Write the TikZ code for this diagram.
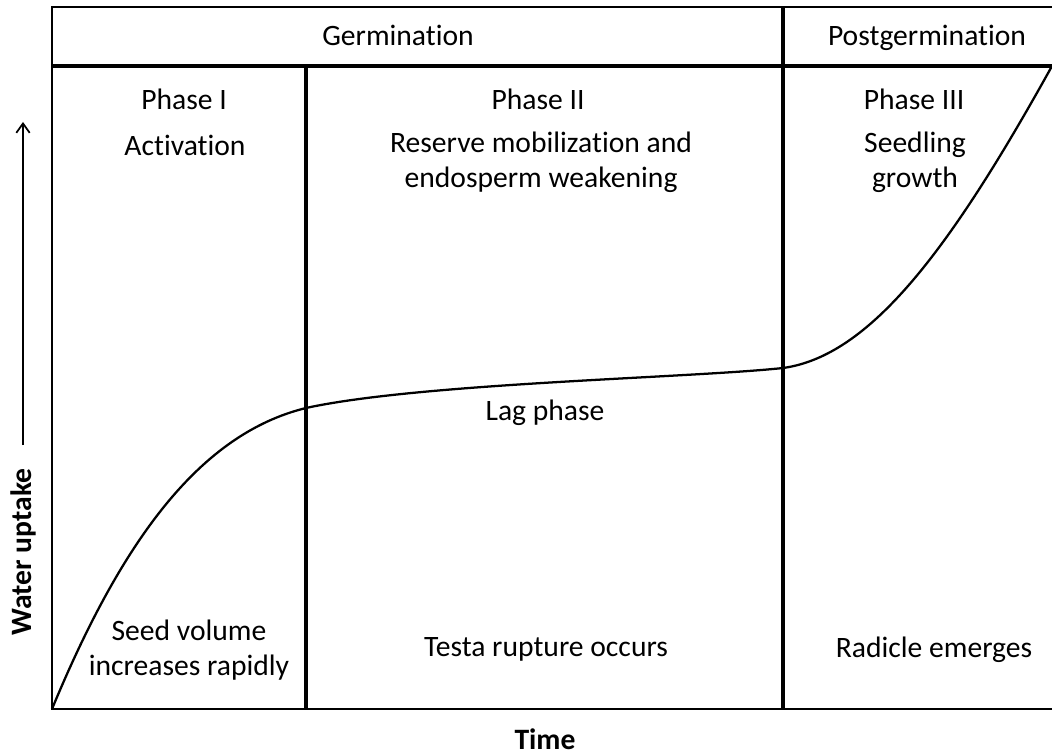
\documentclass[tikz,border=0pt]{standalone}
\usepackage{fontspec}
\setmainfont{Carlito}[Ligatures=NoCommon]
\usetikzlibrary{arrows.meta}
\begin{document}
\begin{tikzpicture}[x=0.75pt,y=-0.75pt,
  lbl/.style={inner sep=0pt,anchor=base,font=\fontsize{22.2}{26}\selectfont},
  blbl/.style={lbl,font=\fontsize{22.2}{26}\selectfont\bfseries},
  frame/.style={line width=1.8pt},
  divider/.style={line width=2.3pt},
  curve/.style={line width=1.7pt},
  axisarrow/.style={line width=1.3pt,-{Straight Barb[length=7pt,width=10pt,line width=1.3pt]}}]
\useasboundingbox (0,0) rectangle (1052,756);
% frame coordinates
\coordinate (tl) at (52,7);
\coordinate (tr) at (1053,7);
\coordinate (hl) at (52,66);
\coordinate (hr) at (1053,66);
\coordinate (bl) at (52,709);
\coordinate (br) at (1053,709);
\coordinate (d1t) at (306,66);
\coordinate (d1b) at (306,709);
\coordinate (d2t) at (783,7);
\coordinate (d2b) at (783,709);
\draw[frame] (tr) -- (tl) -- (bl) -- (br);
\draw[line width=2.6pt] (hl) -- (hr);
\draw[divider] (d1t) -- (d1b);
\draw[divider] (d2t) -- (d2b);
% curve
\coordinate (c0) at (52,709);
\coordinate (c1) at (306,408);
\coordinate (c2) at (783,368);
\coordinate (c3) at (1052,66);
\draw[curve] (c0) .. controls (122,540) and (200,434) .. (c1)
  .. controls (420,383) and (690,378) .. (c2)
  .. controls (870,356) and (950,250) .. (c3);
% axis
\coordinate (ya) at (23,445);
\coordinate (yb) at (23,122);
\draw[axisarrow] (ya) -- (yb);
\node[blbl,anchor=center,rotate=90] (wu) at (23,552) {Water uptake};
\node[blbl] (time) at (545,749) {Time};
% headers
\node[lbl] (germ) at (398,46) {Germination};
\node[lbl] (postg) at (927,46) {Postgermination};
% phase I
\node[lbl] (p1) at (184,110) {Phase I};
\node[lbl] (p1a) at (185,156) {Activation};
\node[lbl] (p1b) at (189,640) {Seed volume};
\node[lbl] (p1c) at (189,675) {increases rapidly};
% phase II
\node[lbl] (p2) at (538,110) {Phase II};
\node[lbl] (p2a) at (541,152) {Reserve mobilization and};
\node[lbl] (p2b) at (541,187) {endosperm weakening};
\node[lbl] (lag) at (545,420) {Lag phase};
\node[lbl] (p2c) at (546,656) {Testa rupture occurs};
% phase III
\node[lbl] (p3) at (914,110) {Phase III};
\node[lbl] (p3a) at (915,152) {Seedling};
\node[lbl] (p3b) at (915,187) {growth};
\node[lbl] (p3c) at (934,657) {Radicle emerges};
\end{tikzpicture}
\end{document}
